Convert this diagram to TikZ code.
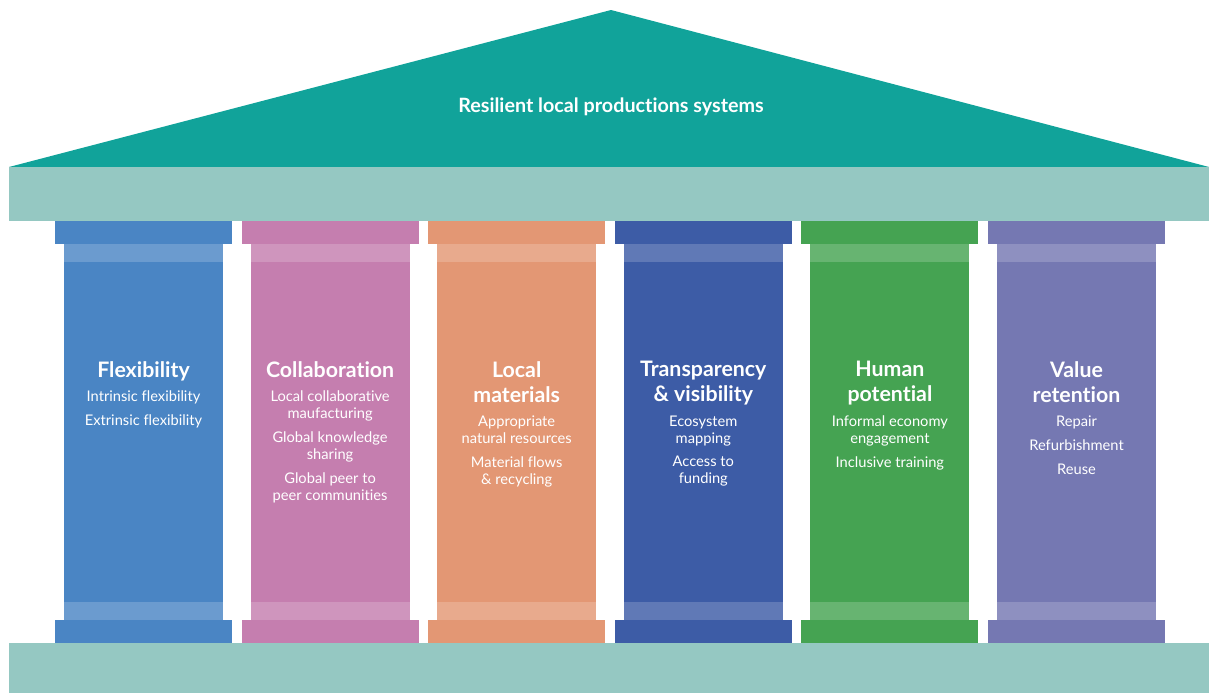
\documentclass[tikz,border=0pt]{standalone}
\usepackage{fontspec}
\setmainfont{Lato}[Ligatures=NoCommon]
\usetikzlibrary{positioning}
\definecolor{roof}{HTML}{11A39A}
\definecolor{beam}{HTML}{95C8C2}
\definecolor{flexblue}{HTML}{4A85C4}
\definecolor{collabpink}{HTML}{C57EAF}
\definecolor{matorange}{HTML}{E39774}
\definecolor{transblue}{HTML}{3D5CA6}
\definecolor{humangreen}{HTML}{45A352}
\definecolor{valuepurple}{HTML}{7578B2}

\begin{document}
\begin{tikzpicture}[x=0.75pt,y=-0.75pt,
  ttl/.style={text=white,font=\fontsize{16}{18.75}\selectfont\bfseries,
              align=center,inner sep=0pt,anchor=north,text depth=4pt},
  items/.style={text=white,font=\fontsize{11}{12.75}\selectfont,
                align=center,inner sep=0pt,below=6pt of #1}
]
\useasboundingbox (0,0) rectangle (1209,693);
\fill[roof] (9,167) -- (611,10) -- (1209,167) -- cycle;
\fill[beam] (9,167) rectangle (1209,221);
\fill[beam] (9,643) rectangle (1209,693);
\foreach \c [count=\i from 0] in {flexblue,collabpink,matorange,transblue,humangreen,valuepurple} {
  \pgfmathsetmacro\cx{143.5+186.6*\i}
  \fill[\c] (\cx-88.5,221) rectangle (\cx+88.5,244);
  \fill[\c] (\cx-79.5,244) rectangle (\cx+79.5,620);
  \fill[\c!82!white] (\cx-79.5,244) rectangle (\cx+79.5,262);
  \fill[\c!82!white] (\cx-79.5,602) rectangle (\cx+79.5,620);
  \fill[\c] (\cx-88.5,620) rectangle (\cx+88.5,643);
}
\node[text=white,font=\fontsize{14.8}{17}\selectfont\bfseries] (top) at (611,107) {Resilient local productions systems};

\node[ttl] (t1) at (143.5,361) {Flexibility};
\node[items=t1] (l1) {Intrinsic flexibility\\[5pt]Extrinsic flexibility};
\node[ttl] (t2) at (330.1,361) {Collaboration};
\node[items=t2] (l2) {Local collaborative\\maufacturing\\[5pt]Global knowledge\\sharing\\[5pt]Global peer to\\peer communities};
\node[ttl] (t3) at (516.7,361) {Local\\materials};
\node[items=t3] (l3) {Appropriate\\natural resources\\[5pt]Material flows\\\& recycling};
\node[ttl] (t4) at (703.3,361) {Transparency\\\& visibility};
\node[items=t4] (l4) {Ecosystem\\mapping\\[5pt]Access to\\funding};
\node[ttl] (t5) at (889.9,361) {Human\\potential};
\node[items=t5] (l5) {Informal economy\\engagement\\[5pt]Inclusive training};
\node[ttl] (t6) at (1076.5,361) {Value\\retention};
\node[items=t6] (l6) {Repair\\[5pt]Refurbishment\\[5pt]Reuse};
\end{tikzpicture}
\end{document}
